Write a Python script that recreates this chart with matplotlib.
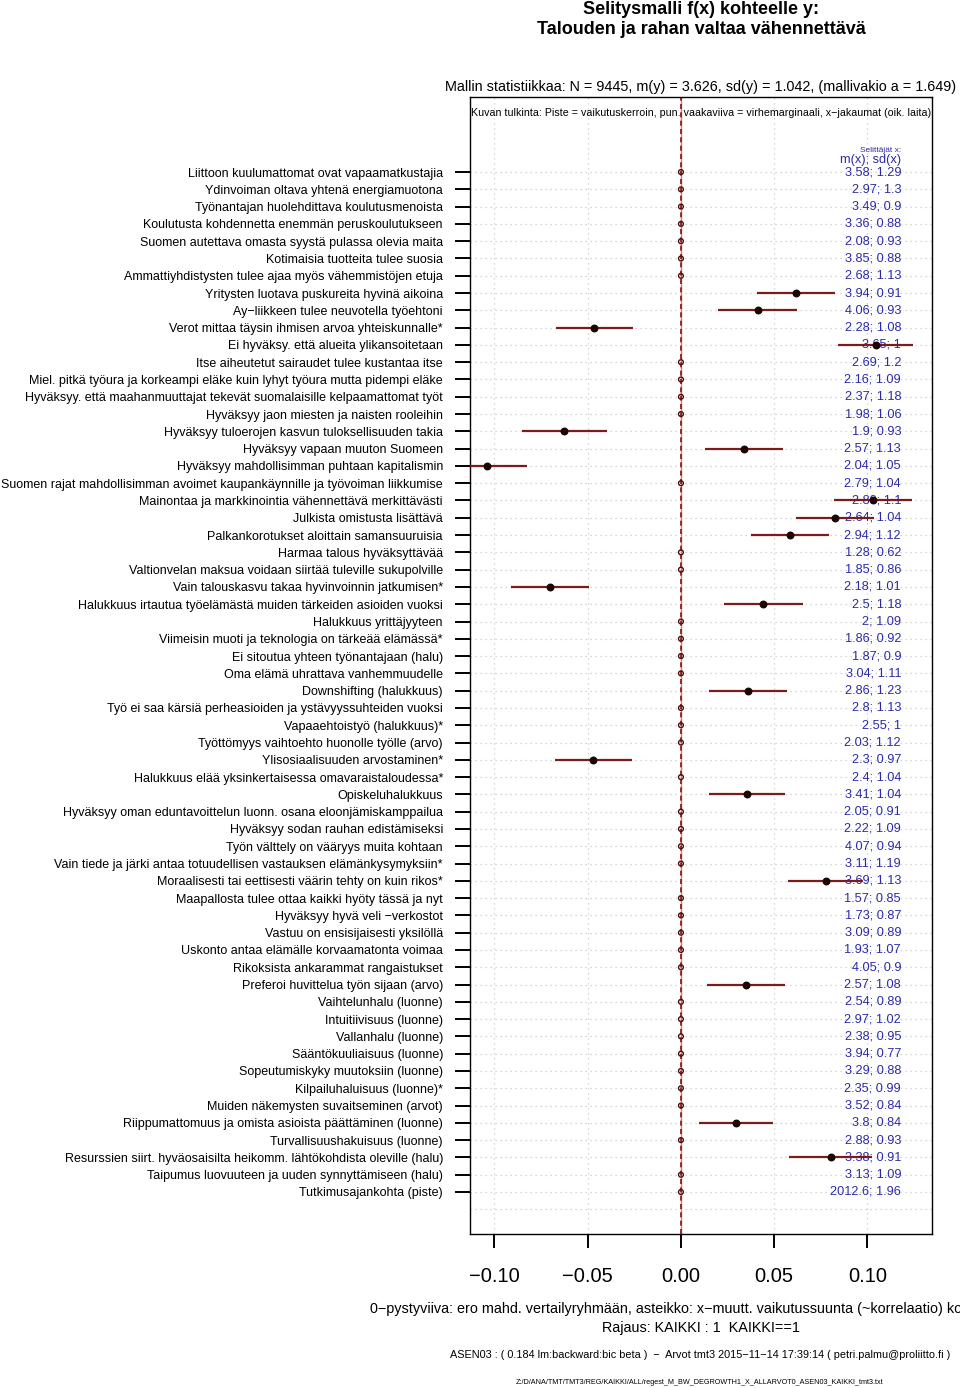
import matplotlib
matplotlib.use("Agg")
import matplotlib.pyplot as plt
import matplotlib.transforms as mtrans
import numpy as np

plt.rcParams['font.family'] = ['Liberation Sans', 'DejaVu Sans']

labels = [
    "Liittoon kuulumattomat ovat vapaamatkustajia",
    "Ydinvoiman oltava yhtenä energiamuotona",
    "Työnantajan huolehdittava koulutusmenoista",
    "Koulutusta kohdennetta enemmän peruskoulutukseen",
    "Suomen autettava omasta syystä pulassa olevia maita",
    "Kotimaisia tuotteita tulee suosia",
    "Ammattiyhdistysten tulee ajaa myös vähemmistöjen etuja",
    "Yritysten luotava puskureita hyvinä aikoina",
    "Ay\u2212liikkeen tulee neuvotella työehtoni",
    "Verot mittaa täysin ihmisen arvoa yhteiskunnalle*",
    "Ei hyväksy. että alueita ylikansoitetaan",
    "Itse aiheutetut sairaudet tulee kustantaa itse",
    "Miel. pitkä työura ja korkeampi eläke kuin lyhyt työura mutta pidempi eläke",
    "Hyväksyy. että maahanmuuttajat tekevät suomalaisille kelpaamattomat työt",
    "Hyväksyy jaon miesten ja naisten rooleihin",
    "Hyväksyy tuloerojen kasvun tuloksellisuuden takia",
    "Hyväksyy vapaan muuton Suomeen",
    "Hyväksyy mahdollisimman puhtaan kapitalismin",
    "Suomen rajat mahdollisimman avoimet kaupankäynnille ja työvoiman liikkumise",
    "Mainontaa ja markkinointia vähennettävä merkittävästi",
    "Julkista omistusta lisättävä",
    "Palkankorotukset aloittain samansuuruisia",
    "Harmaa talous hyväksyttävää",
    "Valtionvelan maksua voidaan siirtää tuleville sukupolville",
    "Vain talouskasvu takaa hyvinvoinnin jatkumisen*",
    "Halukkuus irtautua työelämästä muiden tärkeiden asioiden vuoksi",
    "Halukkuus yrittäjyyteen",
    "Viimeisin muoti ja teknologia on tärkeää elämässä*",
    "Ei sitoutua yhteen työnantajaan (halu)",
    "Oma elämä uhrattava vanhemmuudelle",
    "Downshifting (halukkuus)",
    "Työ ei saa kärsiä perheasioiden ja ystävyyssuhteiden vuoksi",
    "Vapaaehtoistyö (halukkuus)*",
    "Työttömyys vaihtoehto huonolle työlle (arvo)",
    "Ylisosiaalisuuden arvostaminen*",
    "Halukkuus elää yksinkertaisessa omavaraistaloudessa*",
    "Opiskeluhalukkuus",
    "Hyväksyy oman eduntavoittelun luonn. osana eloonjämiskamppailua",
    "Hyväksyy sodan rauhan edistämiseksi",
    "Työn välttely on vääryys muita kohtaan",
    "Vain tiede ja järki antaa totuudellisen vastauksen elämänkysymyksiin*",
    "Moraalisesti tai eettisesti väärin tehty on kuin rikos*",
    "Maapallosta tulee ottaa kaikki hyöty tässä ja nyt",
    "Hyväksyy hyvä veli \u2212verkostot",
    "Vastuu on ensisijaisesti yksilöllä",
    "Uskonto antaa elämälle korvaamatonta voimaa",
    "Rikoksista ankarammat rangaistukset",
    "Preferoi huvittelua työn sijaan (arvo)",
    "Vaihtelunhalu (luonne)",
    "Intuitiivisuus (luonne)",
    "Vallanhalu (luonne)",
    "Sääntökuuliaisuus (luonne)",
    "Sopeutumiskyky muutoksiin (luonne)",
    "Kilpailuhaluisuus (luonne)*",
    "Muiden näkemysten suvaitseminen (arvot)",
    "Riippumattomuus ja omista asioista päättäminen (luonne)",
    "Turvallisuushakuisuus (luonne)",
    "Resurssien siirt. hyväosaisilta heikomm. lähtökohdista oleville (halu)",
    "Taipumus luovuuteen ja uuden synnyttämiseen (halu)",
    "Tutkimusajankohta (piste)",
]

# beta coefficients and confidence limits (0 = dropped from model)
coef = [0, 0, 0, 0, 0, 0, 0, 0.0617, 0.0411, -0.0466,
        0.1046, 0, 0, 0, 0, -0.0627, 0.0336, -0.1042, 0, 0.1028,
        0.0826, 0.0584, 0, 0, -0.0702, 0.0441, 0, 0, 0, 0,
        0.0359, 0, 0, 0, -0.0474, 0, 0.0352, 0, 0, 0,
        0, 0.0776, 0, 0, 0, 0, 0, 0.0349, 0, 0,
        0, 0, 0, 0, 0, 0.0295, 0, 0.0803, 0, 0]
lower = [0, 0, 0, 0, 0, 0, 0, 0.0406, 0.0200, -0.0672,
         0.0840, 0, 0, 0, 0, -0.0854, 0.0129, -0.1260, 0, 0.0819,
         0.0615, 0.0374, 0, 0, -0.0912, 0.0229, 0, 0, 0, 0,
         0.0152, 0, 0, 0, -0.0677, 0, 0.0148, 0, 0, 0,
         0, 0.0572, 0, 0, 0, 0, 0, 0.0138, 0, 0,
         0, 0, 0, 0, 0, 0.0098, 0, 0.0579, 0, 0]
upper = [0, 0, 0, 0, 0, 0, 0, 0.0826, 0.0620, -0.0259,
         0.1246, 0, 0, 0, 0, -0.0398, 0.0545, -0.0824, 0, 0.1237,
         0.1037, 0.0795, 0, 0, -0.0493, 0.0656, 0, 0, 0, 0,
         0.0568, 0, 0, 0, -0.0265, 0, 0.0556, 0, 0, 0,
         0, 0.0978, 0, 0, 0, 0, 0, 0.0558, 0, 0,
         0, 0, 0, 0, 0, 0.0495, 0, 0.1026, 0, 0]

x_mean = [3.58, 2.97, 3.49, 3.36, 2.08, 3.85, 2.68, 3.94, 4.06, 2.28,
          3.65, 2.69, 2.16, 2.37, 1.98, 1.9, 2.57, 2.04, 2.79, 2.89,
          2.64, 2.94, 1.28, 1.85, 2.18, 2.5, 2, 1.86, 1.87, 3.04,
          2.86, 2.8, 2.55, 2.03, 2.3, 2.4, 3.41, 2.05, 2.22, 4.07,
          3.11, 3.69, 1.57, 1.73, 3.09, 1.93, 4.05, 2.57, 2.54, 2.97,
          2.38, 3.94, 3.29, 2.35, 3.52, 3.8, 2.88, 3.38, 3.13, 2012.6]
x_sd = [1.29, 1.3, 0.9, 0.88, 0.93, 0.88, 1.13, 0.91, 0.93, 1.08,
        1, 1.2, 1.09, 1.18, 1.06, 0.93, 1.13, 1.05, 1.04, 1.1,
        1.04, 1.12, 0.62, 0.86, 1.01, 1.18, 1.09, 0.92, 0.9, 1.11,
        1.23, 1.13, 1, 1.12, 0.97, 1.04, 1.04, 0.91, 1.09, 0.94,
        1.19, 1.13, 0.85, 0.87, 0.89, 1.07, 0.9, 1.08, 0.89, 1.02,
        0.95, 0.77, 0.88, 0.99, 0.84, 0.84, 0.93, 0.91, 1.09, 1.96]

xticks = [-0.10, -0.05, 0.00, 0.05, 0.10]
xticklabels = ["\u22120.10", "\u22120.05", "0.00", "0.05", "0.10"]

W, H = 960, 1388
fig = plt.figure(figsize=(W / 100, H / 100), dpi=100)
ax = fig.add_axes([470 / W, 1 - 1234 / H, 462 / W, (1234 - 97) / H])

n = len(labels)
y = np.arange(n)[::-1]
coef = np.array(coef)
lower = np.array(lower)
upper = np.array(upper)

ax.set_xlim(-0.1131, 0.1346)
ax.set_ylim(-2.43, 63.34)

# grid
for xt in xticks:
    ax.axvline(xt, color='#cccccc', lw=0.9, ls=(0, (1, 3)), zorder=0)
for yy in list(y) + [-1]:
    ax.axhline(yy, color='#c8c8c8', lw=0.9, ls=(0, (1, 3)), zorder=0)

# x-distribution text on right
blue = '#2b2ba8'
for yy, m, s in zip(y, x_mean, x_sd):
    ax.text(0.118, yy, f"{m:g}; {s:g}", ha='right', va='center',
            color=blue, fontsize=9.2, zorder=1)
ax.text(0.118, 60.27, "Selittäjät x:", ha='right', va='center',
        color=blue, fontsize=6, zorder=1)
ax.text(0.118, 59.72, "m(x); sd(x)", ha='right', va='center',
        color=blue, fontsize=9.2, zorder=1)
ax.text(0.5, 62.41,
        "Kuvan tulkinta: Piste = vaikutuskerroin, pun. vaakaviiva = virhemarginaali, x\u2212jakaumat (oik. laita)",
        transform=mtrans.blended_transform_factory(ax.transAxes, ax.transData),
        ha='center', va='center', fontsize=7.7, zorder=1)

# zero line
ax.axvline(0, color='#d08080', lw=1.0, zorder=2)
ax.axvline(0, color='#8b1010', lw=1.2, ls=(0, (3, 2)), zorder=2)

nz = coef != 0
ax.hlines(y[nz], lower[nz], upper[nz], color='#7a1c1c', lw=1.6, zorder=3)
ax.scatter(coef[nz], y[nz], s=22, color='#1a0505', zorder=4)
ax.scatter(coef[~nz], y[~nz], s=12, facecolor='none', edgecolor='#4a1010',
           lw=1.0, zorder=4)

ax.set_yticks(y)
ax.set_yticklabels(labels, fontsize=9.0)
ax.set_xticks(xticks)
ax.set_xticklabels(xticklabels, fontsize=14.5)
ax.tick_params(axis='y', length=11, width=1.4, pad=8.5)
ax.tick_params(axis='x', length=10, width=1.4, pad=14)
for sp in ax.spines.values():
    sp.set_linewidth(1.0)


def ftext(px, py, s, **kw):
    fig.text(px / W, 1 - py / H, s, **kw)


ftext(701, 10, "Selitysmalli f(x) kohteelle y:", ha='center', va='center',
      fontsize=13, fontweight='bold')
ftext(701, 30, "Talouden ja rahan valtaa vähennettävä", ha='center', va='center',
      fontsize=13, fontweight='bold')
ftext(701, 87, "Mallin statistiikkaa: N = 9445, m(y) = 3.626, sd(y) = 1.042, (mallivakio a = 1.649)",
      ha='center', va='center', fontsize=10.35)
ftext(370, 1309, "0\u2212pystyviiva: ero mahd. vertailyryhmään, asteikko: x\u2212muutt. vaikutussuunta (~korrelaatio) ko",
      ha='left', va='center', fontsize=10.35)
ftext(701, 1328, "Rajaus: KAIKKI : 1  KAIKKI==1", ha='center', va='center', fontsize=10.35)
ftext(700, 1355, "ASEN03 : ( 0.184 lm:backward:bic beta )  \u2212  Arvot tmt3 2015\u221211\u221214 17:39:14 ( petri.palmu@proliitto.fi )",
      ha='center', va='center', fontsize=7.8)
ftext(700, 1382, "Z:/D/ANA/TMT/TMT3/REG/KAIKKI/ALL/regest_M_BW_DEGROWTH1_X_ALLARVOT0_ASEN03_KAIKKI_tmt3.txt",
      ha='center', va='center', fontsize=5.2)

fig.savefig("out.png", dpi=100)
